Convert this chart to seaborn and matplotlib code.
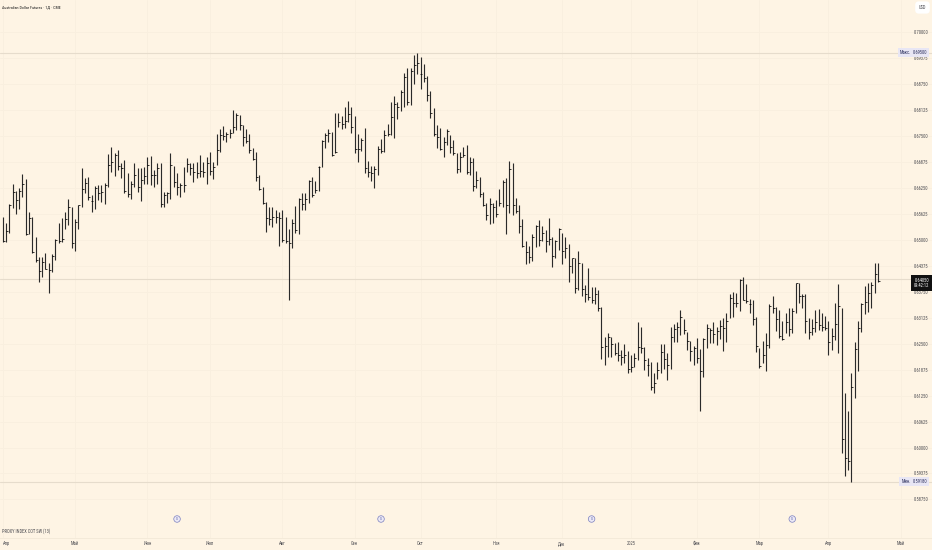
import numpy as np
import pandas as pd
import matplotlib
matplotlib.use("Agg")
import matplotlib.pyplot as plt
from matplotlib import font_manager as fm
import seaborn as sns

# Daily bars, prices in 1/10000 USD
highs = [
6555,6541,6586,6634,6618,6625,6658,6646,6567,6555,
6506,6458,6458,6468,6444,6465,6502,6541,6553,6567,
6598,6579,6550,6584,6673,6649,6651,6608,6630,6632,
6632,6637,6706,6723,6709,6716,6685,6692,6661,6641,
6685,6673,6673,6675,6699,6702,6668,6685,6685,6615,
6615,6709,6678,6661,6637,6675,6697,6685,6685,6687,
6704,6687,6699,6711,6687,6755,6767,6774,6759,6767,
6812,6805,6800,6776,6767,6755,6721,6711,6656,6627,
6591,6579,6579,6572,6567,6572,6555,6526,6550,6581,
6601,6613,6613,6644,6651,6641,6678,6740,6757,6767,
6759,6805,6805,6798,6819,6834,6819,6798,6755,6745,
6769,6690,6678,6678,6726,6742,6764,6779,6832,6846,
6832,6860,6901,6913,6913,6945,6949,6940,6923,6894,
6858,6817,6776,6769,6747,6767,6752,6740,6709,6711,
6723,6728,6699,6697,6665,6651,6615,6589,6601,6589,
6596,6622,6644,6649,6690,6685,6601,6584,6550,6497,
6485,6514,6536,6548,6533,6524,6553,6506,6499,6528,
6517,6506,6490,6456,6456,6473,6444,6391,6432,6386,
6386,6379,6338,6266,6276,6266,6252,6254,6235,6249,
6232,6223,6228,6302,6290,6242,6216,6206,6180,6206,
6249,6249,6228,6290,6297,6302,6331,6309,6278,6256,
6244,6264,6237,6264,6297,6288,6302,6290,6307,6312,
6324,6369,6374,6372,6406,6410,6394,6357,6355,6314,
6240,6256,6276,6346,6365,6338,6331,6305,6324,6336,
6336,6396,6396,6369,6369,6312,6309,6331,6333,6324,
6317,6305,6288,6348,6394,6336,6131,6088,6179,6254,
6305,6348,6389,6396,6398,6444,6444]
lows = [
6494,6494,6517,6577,6562,6574,6603,6512,6514,6468,
6446,6398,6410,6429,6372,6422,6451,6492,6494,6526,
6536,6480,6473,6526,6579,6613,6596,6567,6574,6596,
6591,6586,6627,6663,6653,6668,6649,6613,6603,6598,
6627,6615,6594,6634,6634,6632,6627,6634,6579,6579,
6589,6598,6627,6608,6603,6615,6663,6656,6639,6649,
6651,6651,6634,6656,6646,6680,6711,6740,6735,6745,
6757,6764,6764,6726,6733,6709,6692,6641,6620,6586,
6519,6536,6531,6541,6485,6494,6492,6355,6480,6517,
6514,6572,6572,6589,6603,6613,6618,6675,6721,6735,
6702,6709,6771,6767,6769,6783,6757,6709,6687,6714,
6661,6651,6641,6625,6656,6709,6711,6750,6752,6745,
6791,6810,6819,6824,6824,6875,6899,6863,6880,6834,
6793,6750,6721,6716,6699,6728,6709,6704,6661,6663,
6699,6658,6656,6618,6625,6603,6581,6548,6538,6541,
6555,6581,6579,6514,6565,6560,6565,6517,6483,6442,
6444,6449,6483,6485,6497,6470,6487,6434,6456,6475,
6442,6456,6398,6420,6372,6379,6365,6350,6355,6348,
6346,6329,6213,6199,6218,6218,6223,6208,6199,6204,
6180,6182,6194,6211,6228,6187,6172,6138,6131,6165,
6180,6189,6163,6189,6254,6254,6271,6273,6235,6208,
6199,6204,6088,6170,6240,6252,6252,6247,6261,6232,
6254,6312,6314,6338,6329,6355,6348,6324,6295,6230,
6192,6204,6184,6240,6324,6280,6264,6259,6276,6268,
6276,6324,6348,6336,6276,6261,6271,6278,6283,6280,
6283,6223,6235,6259,6228,5987,5931,5946,5917,6119,
6184,6278,6321,6326,6336,6372,6398]
closes = [
6497,6522,6584,6615,6596,6618,6634,6514,6553,6470,
6451,6425,6446,6429,6427,6461,6499,6497,6502,6550,
6579,6492,6543,6584,6622,6637,6603,6594,6625,6613,
6615,6632,6680,6687,6704,6678,6673,6618,6610,6634,
6656,6627,6644,6653,6680,6656,6656,6673,6586,6608,
6613,6680,6639,6627,6632,6632,6682,6673,6663,6661,
6665,6663,6685,6665,6675,6716,6752,6750,6755,6757,
6771,6800,6776,6747,6738,6716,6694,6651,6622,6589,
6553,6550,6555,6555,6553,6499,6497,6492,6541,6524,
6598,6586,6598,6641,6608,6620,6675,6738,6752,6757,
6704,6711,6783,6779,6786,6803,6771,6718,6718,6740,
6673,6663,6661,6670,6718,6714,6752,6755,6795,6827,
6819,6856,6892,6832,6906,6921,6925,6899,6889,6848,
6805,6755,6747,6718,6735,6762,6723,6709,6670,6699,
6704,6663,6687,6630,6644,6610,6584,6560,6586,6579,
6562,6589,6639,6584,6670,6584,6569,6533,6485,6470,
6458,6506,6533,6499,6517,6497,6502,6461,6497,6526,
6473,6480,6437,6456,6384,6444,6382,6369,6362,6355,
6369,6336,6242,6244,6266,6249,6228,6223,6218,6223,
6189,6194,6216,6242,6240,6211,6199,6146,6155,6187,
6230,6213,6199,6266,6285,6290,6314,6283,6256,6232,
6240,6216,6184,6261,6288,6283,6273,6280,6292,6288,
6305,6360,6348,6348,6403,6355,6353,6346,6309,6244,
6196,6223,6247,6341,6336,6309,6268,6261,6302,6285,
6329,6396,6365,6365,6305,6278,6288,6302,6295,6290,
6288,6254,6268,6297,6341,6021,5975,5968,6146,6237,
6288,6346,6350,6372,6391,6418,6401]

price_ticks = [0.70000,0.69375,0.68750,0.68125,0.67500,0.66875,0.66250,0.65625,0.65000,
               0.64375,0.63750,0.63125,0.62500,0.61875,0.61250,0.60625,0.60000,0.59375,0.58750]
month_bars = [0,22,44,63,85,107,127,150,170,191,211,230,251,273]
month_labels = ["Апр","Май","Июн","Июл","Авг","Сен","Окт","Ноя","Дек","2025","Фев","Мар","Апр","Май"]
dividend_bars = [53,115,179,240]
title = "Australian Dollar Futures · 1Д · CME"
panel_title = "PROXY INDEX COT SW (13)"
price_max, price_min, price_last = 0.69500, 0.59180, 0.64050
last_timer = "09:42:12"

BG = "#FEF4E4"
GRID = "#F9EFDF"
SEP = "#F4EAD9"
LEVEL = "#E6DCCC"
TXT = "#4A4A50"

sns.set_theme(style="white", rc={"axes.facecolor": BG, "figure.facecolor": BG})
names = {f.name for f in fm.fontManager.ttflist}
plt.rcParams["font.family"] = [n for n in ["Liberation Sans Narrow", "Roboto Condensed", "Roboto", "DejaVu Sans"] if n in names]
FS = 3.25

n = len(highs)
idx = np.arange(n)
hi = np.array(highs) / 10000
lo = np.array(lows) / 10000
cl = np.array(closes) / 10000
bars = pd.DataFrame({"bar": np.r_[idx, idx], "price": np.r_[hi, lo]})
ticks = pd.DataFrame({"bar": idx + 0.3, "price": cl})

fig = plt.figure(figsize=(9.32, 5.5), dpi=100)
ax = fig.add_axes([0, 26 / 550, 1, 524 / 550])
panel = fig.add_axes([0, 12 / 550, 1, 14 / 550], sharex=ax)

sns.lineplot(data=bars, x="bar", y="price", units="bar", estimator=None, sort=False,
             color="#2A2A2A", linewidth=0.82, legend=False, ax=ax, solid_capstyle="butt")
sns.scatterplot(data=ticks, x="bar", y="price", marker="_", s=1.0, color="#000000",
                linewidth=0.55, legend=False, ax=ax, zorder=4)

x0, dx = 2.67, 3.29
ax.set_xlim(-x0 / dx, (932 - x0) / dx)
ax.set_ylim(0.7 - 492 * 0.00024066, 0.7 + 32 * 0.00024066)
ax.set_xlabel(""); ax.set_ylabel("")

ax.yaxis.tick_right()
ax.set_yticks(price_ticks)
ax.set_yticklabels([f"{p:.5f}" for p in price_ticks], fontsize=FS, color=TXT, ha="right")
ax.tick_params(axis="y", length=0, pad=-2.6)
ax.tick_params(axis="x", length=0, labelbottom=False)
ax.grid(True, color=GRID, linewidth=0.7)
ax.set_axisbelow(True)
for s in ax.spines.values():
    s.set_visible(False)
ax.spines["bottom"].set_visible(True)
ax.spines["bottom"].set_color(SEP)
ax.spines["bottom"].set_linewidth(0.7)

panel.set_ylim(0, 1)
panel.set_yticks([])
panel.set_xticks(month_bars)
panel.set_xticklabels(month_labels, fontsize=FS, color=TXT)
panel.tick_params(axis="x", length=0, pad=3.6)
for lab in panel.get_xticklabels():
    lab.set_va("center_baseline")
panel.get_xticklabels()[0].set_ha("left")
panel.grid(True, axis="x", color=GRID, linewidth=0.7)
for s in panel.spines.values():
    s.set_visible(False)
panel.spines["bottom"].set_visible(True)
panel.spines["bottom"].set_color(SEP)
panel.spines["bottom"].set_linewidth(0.7)
panel.text(2 / 932, 0.5, panel_title, transform=panel.transAxes, fontsize=FS, color=TXT, va="center")

for p in (price_max, price_min, price_last):
    ax.axhline(p, color=LEVEL, linewidth=0.8, zorder=1)

trans = ax.get_yaxis_transform()
def badge(p, side, text_, fc):
    ax.text(0.9946, p, text_, transform=trans, ha="right", va="center", fontsize=FS, color="#2A2E5C",
            bbox=dict(boxstyle="square,pad=0.45", fc=fc, ec="none"), zorder=6)
    ax.text(0.9775, p, side, transform=trans, ha="right", va="center", fontsize=FS, color="#2A2E5C",
            bbox=dict(boxstyle="square,pad=0.45", fc=fc, ec="none"), zorder=6)
badge(price_max, "Макс.", f"{price_max:.5f}", "#E8E6F4")
badge(price_min, "Мин.", f"{price_min:.5f}", "#E8E6F4")
ax.text(0.9968, price_last + 0.00040, f"{price_last:.5f}\n{last_timer}", transform=trans, ha="right", va="top",
        fontsize=FS, color="white", linespacing=1.2,
        bbox=dict(boxstyle="square,pad=0.55", fc="#111111", ec="none"), zorder=7)

ax.text(2 / 932, 1 - 7 / 524, title, transform=ax.transAxes, fontsize=3.0, color="#222222", va="center")
ax.text(922.5 / 932, 1 - 7.5 / 524, "USD", transform=ax.transAxes, fontsize=FS, color=TXT, ha="center", va="center",
        bbox=dict(boxstyle="round,pad=0.8", fc="white", ec="none"), zorder=6)

xt = ax.get_xaxis_transform()
for b in dividend_bars:
    ax.text(b, 5 / 524, "S", transform=xt, fontsize=2.6, color="#5A5FA8", ha="center", va="center",
            bbox=dict(boxstyle="circle,pad=0.35", fc="#ECE9F5", ec="#7A7FBF", lw=0.5), zorder=6)

fig.savefig("out.png", dpi=100, facecolor=BG)
